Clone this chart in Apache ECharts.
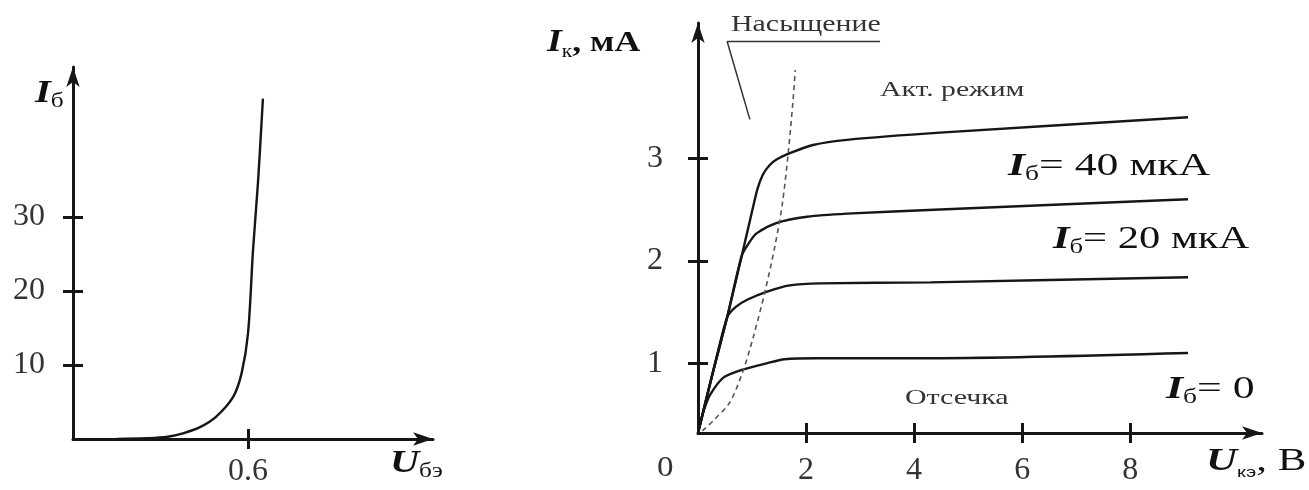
<!DOCTYPE html>
<html>
<head>
<meta charset="utf-8">
<script src="https://cdn.jsdelivr.net/npm/echarts@6/dist/echarts.min.js"></script>
<style>
html,body{margin:0;padding:0;background:#fff;}
#chart{width:1309px;height:490px;}
</style>
</head>
<body>
<div id="chart"></div>
<script>
// ---- Input characteristic (left) ----
const inputU = [0.15, 0.25, 0.32, 0.38, 0.435, 0.49, 0.549, 0.578, 0.6, 0.617, 0.634, 0.651];
const inputI = [0, 0.1, 0.27, 0.8, 1.6, 3.0, 5.7, 8.9, 14.3, 25.5, 34.6, 46];
const inputXTicks = [0.6];
const inputYTicks = [10, 20, 30];

// ---- Output characteristics (right) ----
const curveA_U = [0, 0.27, 0.54, 0.81, 1.0, 1.1, 1.2, 1.32, 1.46, 1.7, 2.13, 2.76, 4.48, 9.07];
const curveA_I = [0.32, 0.9, 1.45, 2.05, 2.48, 2.7, 2.84, 2.93, 2.99, 3.05, 3.13, 3.18, 3.25, 3.40];
const curveB_U = [0, 0.27, 0.54, 0.81, 0.95, 1.09, 1.46, 2.02, 2.76, 4.48, 9.07];
const curveB_I = [0.32, 0.9, 1.45, 2.05, 2.18, 2.27, 2.37, 2.43, 2.46, 2.50, 2.60];
const curveC_U = [0, 0.27, 0.54, 0.7, 0.91, 1.28, 1.7, 2.26, 4.3, 9.07];
const curveC_I = [0.32, 0.9, 1.45, 1.55, 1.62, 1.70, 1.76, 1.78, 1.79, 1.84];
const curveD_U = [0, 0.06, 0.12, 0.22, 0.47, 0.84, 1.27, 1.6, 2.2, 4.5, 9.07];
const curveD_I = [0.32, 0.45, 0.56, 0.69, 0.86, 0.94, 1.0, 1.04, 1.05, 1.05, 1.10];
const boundaryU = [0.08, 0.3, 0.59, 0.83, 1.02, 1.24, 1.43, 1.56, 1.67, 1.76, 1.80];
const boundaryI = [0.34, 0.45, 0.62, 0.92, 1.25, 1.70, 2.16, 2.55, 3.05, 3.57, 3.86];
const leaderU = [3.37, 0.54, 0.96];
const leaderI = [4.14, 4.14, 3.38];
const outputXTicks = [2, 4, 6, 8];
const outputYTicks = [1, 2, 3];

const pairs = (xs, ys) => xs.map((x, i) => [x, ys[i]]);
const INK = '#161616';
const SERIF = '"Liberation Serif", "DejaVu Serif", serif';
const STRETCH = 1.33;

function axisPair(gridIndex, min, max, ticks, labelMargin, position) {
  const base = {
    gridIndex, type: 'value', min, max, position,
    splitLine: { show: false }
  };
  const main = Object.assign({}, base, {
    axisLine: { show: true, onZero: false, symbol: ['none', 'arrow'], symbolSize: [10, 20],
      lineStyle: { color: INK, width: 3 } },
    axisTick: { show: true, customValues: ticks, length: 10, lineStyle: { color: INK, width: 3 } },
    axisLabel: { show: true, customValues: ticks, margin: labelMargin, fontSize: 32,
      fontFamily: SERIF, color: '#333' }
  });
  const helper = Object.assign({}, base, {
    axisLine: { show: false },
    axisTick: { show: true, inside: true, customValues: ticks, length: 10, lineStyle: { color: INK, width: 3 } },
    axisLabel: { show: false }
  });
  return [main, helper];
}

const xAxes = [].concat(
  axisPair(0, 0, 1.234, inputXTicks, 17, 'bottom'),
  axisPair(1, 0, 10.44, outputXTicks, 22, 'bottom')
);
const yAxes = [].concat(
  axisPair(0, 0, 50.27, inputYTicks, 28, 'left'),
  axisPair(1, 0.32, 4.32, outputYTicks, 35, 'left')
);

function curve(xs, ys, xi, yi, extra) {
  return Object.assign({
    type: 'line', xAxisIndex: xi, yAxisIndex: yi, data: pairs(xs, ys),
    symbol: 'none', smooth: 0.25, silent: true,
    lineStyle: { color: INK, width: 2.4 }
  }, extra || {});
}

const sub = (size) => ({ fontFamily: SERIF, fontSize: size, verticalAlign: 'bottom', fill: '#111' });

function label(x, y, text, rich, extra, sx) {
  return {
    type: 'text', x, y, silent: true, scaleX: sx || STRETCH,
    style: Object.assign({ text, rich, textAlign: 'left', textVerticalAlign: 'middle', fill: '#111' }, extra || {})
  };
}

const italicI = { fontFamily: SERIF, fontStyle: 'italic', fontWeight: 'bold', fontSize: 32, lineHeight: 36, fill: '#111' };
const plain = { fontFamily: SERIF, fontSize: 32, lineHeight: 36, fill: '#111' };

const chart = echarts.init(document.getElementById('chart'), null, { renderer: 'canvas' });
chart.setOption({
  animation: false,
  backgroundColor: '#fff',
  grid: [
    { left: 73, top: 67, width: 360, height: 372 },
    { left: 698, top: 23, width: 564, height: 410 }
  ],
  xAxis: xAxes,
  yAxis: yAxes,
  series: [
    curve(inputU, inputI, 0, 0, { smooth: 0.3 }),
    curve(curveA_U, curveA_I, 2, 2),
    curve(curveB_U, curveB_I, 2, 2),
    curve(curveC_U, curveC_I, 2, 2),
    curve(curveD_U, curveD_I, 2, 2),
    curve(boundaryU, boundaryI, 2, 2, { smooth: 0.3, lineStyle: { color: '#555', width: 1.6, type: [5, 4] } }),
    curve(leaderU, leaderI, 2, 2, { smooth: false, lineStyle: { color: '#333', width: 1.5 } })
  ],
  graphic: [
    label(35, 94, '{i|I}{s|б}', { i: italicI, s: sub(20) }, null, 1.27),
    label(390, 464, '{i|U}{s|бэ}', { i: italicI, s: sub(20) }, null, 1.26),
    label(547, 43, '{i|I}{s|к}{p|, мА}', { i: italicI, s: sub(18), p: Object.assign({}, plain, { fontWeight: 'bold', fontSize: 30 }) }, null, 1.19),
    label(731, 25, 'Насыщение', null, { font: '23px ' + SERIF, fill: '#333' }, 1.3),
    label(880, 90, 'Акт. режим', null, { font: '22px ' + SERIF, fill: '#333' }, 1.35),
    label(1008, 167, '{i|I}{s|б}{p|= 40 мкА}', { i: italicI, s: sub(20), p: plain }, null, 1.37),
    label(1053, 240, '{i|I}{s|б}{p|= 20 мкА}', { i: italicI, s: sub(20), p: plain }, null, 1.33),
    label(1166, 390, '{i|I}{s|б}{p|= 0}', { i: italicI, s: sub(20), p: plain }, null, 1.37),
    label(905, 398, 'Отсечка', null, { font: '22px ' + SERIF, fill: '#333' }, 1.36),
    label(657, 468, '0', null, { font: '30px ' + SERIF, fill: '#333' }, 1.1),
    label(1206, 462, '{i|U}{s|кэ}{p|, В}', { i: italicI, s: { fontFamily: '"Liberation Sans", sans-serif', fontSize: 15, verticalAlign: 'bottom', fill: '#111' }, p: plain }, null, 1.34)
  ]
});
</script>
</body>
</html>
